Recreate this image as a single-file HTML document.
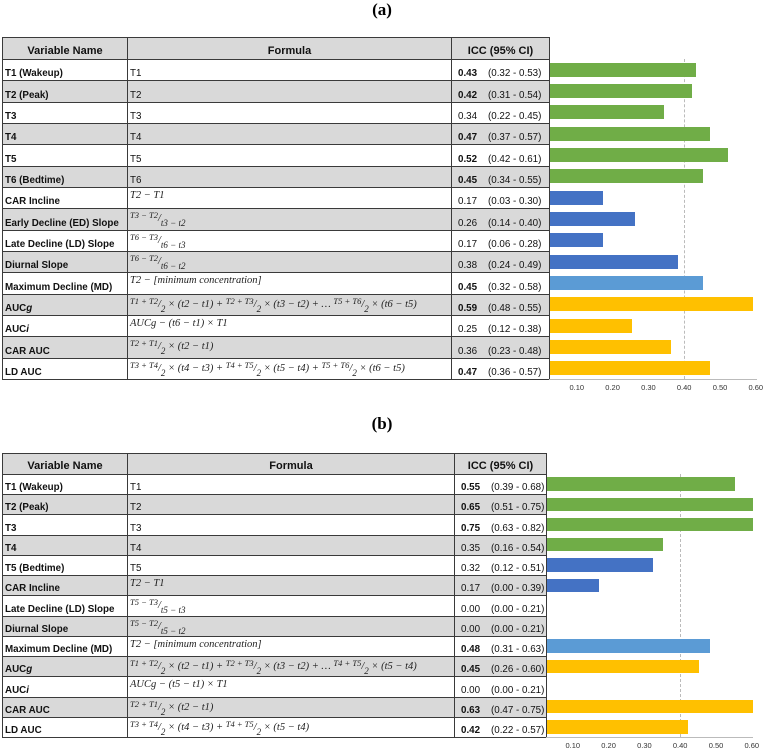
<!DOCTYPE html>
<html><head><meta charset="utf-8">
<style>
body{margin:0;width:764px;height:750px;background:#fff;position:relative;overflow:hidden;font-family:"Liberation Sans",sans-serif;}
.abs{position:absolute;box-sizing:border-box;}
.title{font-family:"Liberation Serif",serif;font-weight:bold;font-size:17px;}
.cell{position:absolute;box-sizing:border-box;border:1px solid #3a3a3a;font-size:9.8px;color:#111;overflow:hidden;white-space:nowrap;}
.hdr{font-weight:bold;font-size:11px;display:flex;align-items:flex-end;justify-content:center;padding-bottom:2px;}
.nm{font-weight:bold;display:flex;align-items:flex-end;padding:0 0 1px 2px;}
.fm{display:flex;align-items:flex-end;padding:0 0 1px 2px;}
.fm.m{align-items:flex-start;padding-top:2px;font-family:"Liberation Serif",serif;font-style:italic;font-size:10.5px;color:#222;line-height:12px;}
.ic{display:flex;align-items:flex-end;padding:0 0 1px 6px;}
.ic b{display:inline-block;width:30px;}
.tick{position:absolute;font-size:7.5px;color:#333;transform:translateX(-50%);}
sup{font-size:8.5px;vertical-align:3px;line-height:1;}
sub{font-size:9px;vertical-align:-5px;line-height:1;}
</style></head>
<body>
<script>
const namesA=["T1 (Wakeup)","T2 (Peak)","T3","T4","T5","T6 (Bedtime)","CAR Incline","Early Decline (ED) Slope","Late Decline (LD) Slope","Diurnal Slope","Maximum Decline (MD)","AUC<i>g</i>","AUC<i>i</i>","CAR AUC","LD AUC"];
const formulasA=["T1","T2","T3","T4","T5","T6","m:T2 &minus; T1","m:<sup>T3 &minus; T2</sup>/<sub>t3 &minus; t2</sub>","m:<sup>T6 &minus; T3</sup>/<sub>t6 &minus; t3</sub>","m:<sup>T6 &minus; T2</sup>/<sub>t6 &minus; t2</sub>","m:T2 &minus; [minimum concentration]","m:<sup>T1 + T2</sup>/<sub>2</sub> &times; (t2 &minus; t1) + <sup>T2 + T3</sup>/<sub>2</sub> &times; (t3 &minus; t2) + &hellip; <sup>T5 + T6</sup>/<sub>2</sub> &times; (t6 &minus; t5)","m:AUCg &minus; (t6 &minus; t1) &times; T1","m:<sup>T2 + T1</sup>/<sub>2</sub> &times; (t2 &minus; t1)","m:<sup>T3 + T4</sup>/<sub>2</sub> &times; (t4 &minus; t3) + <sup>T4 + T5</sup>/<sub>2</sub> &times; (t5 &minus; t4) + <sup>T5 + T6</sup>/<sub>2</sub> &times; (t6 &minus; t5)"];
const valuesA=[0.43,0.42,0.34,0.47,0.52,0.45,0.17,0.26,0.17,0.38,0.45,0.59,0.25,0.36,0.47];
const ciA=["(0.32 - 0.53)","(0.31 - 0.54)","(0.22 - 0.45)","(0.37 - 0.57)","(0.42 - 0.61)","(0.34 - 0.55)","(0.03 - 0.30)","(0.14 - 0.40)","(0.06 - 0.28)","(0.24 - 0.49)","(0.32 - 0.58)","(0.48 - 0.55)","(0.12 - 0.38)","(0.23 - 0.48)","(0.36 - 0.57)"];
const boldA=[1,1,0,1,1,1,0,0,0,0,1,1,0,0,1];
const colorsA=["g","g","g","g","g","g","b","b","b","b","l","o","o","o","o"];
const namesB=["T1 (Wakeup)","T2 (Peak)","T3","T4","T5 (Bedtime)","CAR Incline","Late Decline (LD) Slope","Diurnal Slope","Maximum Decline (MD)","AUC<i>g</i>","AUC<i>i</i>","CAR AUC","LD AUC"];
const formulasB=["T1","T2","T3","T4","T5","m:T2 &minus; T1","m:<sup>T5 &minus; T3</sup>/<sub>t5 &minus; t3</sub>","m:<sup>T5 &minus; T2</sup>/<sub>t5 &minus; t2</sub>","m:T2 &minus; [minimum concentration]","m:<sup>T1 + T2</sup>/<sub>2</sub> &times; (t2 &minus; t1) + <sup>T2 + T3</sup>/<sub>2</sub> &times; (t3 &minus; t2) + &hellip; <sup>T4 + T5</sup>/<sub>2</sub> &times; (t5 &minus; t4)","m:AUCg &minus; (t5 &minus; t1) &times; T1","m:<sup>T2 + T1</sup>/<sub>2</sub> &times; (t2 &minus; t1)","m:<sup>T3 + T4</sup>/<sub>2</sub> &times; (t4 &minus; t3) + <sup>T4 + T5</sup>/<sub>2</sub> &times; (t5 &minus; t4)"];
const valuesB=[0.55,0.65,0.75,0.35,0.32,0.17,0.00,0.00,0.48,0.45,0.00,0.63,0.42];
const ciB=["(0.39 - 0.68)","(0.51 - 0.75)","(0.63 - 0.82)","(0.16 - 0.54)","(0.12 - 0.51)","(0.00 - 0.39)","(0.00 - 0.21)","(0.00 - 0.21)","(0.31 - 0.63)","(0.26 - 0.60)","(0.00 - 0.21)","(0.47 - 0.75)","(0.22 - 0.57)"];
const boldB=[1,1,1,0,0,0,0,0,1,1,0,1,1];
const colorsB=["g","g","g","g","b","b","b","b","l","o","o","o","o"];
const tickVals=[0.10,0.20,0.30,0.40,0.50,0.60];
const tickLabels=["0.10","0.20","0.30","0.40","0.50","0.60"];
const refLine=0.40;
const axisMax=0.60;
const COL={g:"#70ad47",b:"#4472c4",l:"#5b9bd5",o:"#ffc000"};

function panel(id,label,titleY,top,hH,rH,cols,x0,names,forms,vals,cis,bolds,colors){
  const sc=358;
  const xs=v=>x0+sc*Math.min(v,axisMax);
  const wrap=document.createElement('div');
  
  
  document.body.appendChild(wrap);
  const t=document.createElement('div');t.className='abs title';
  
  
  t.style.left='362px';t.style.top=titleY+'px';t.style.width='40px';t.style.textAlign='center';
  t.textContent=label;wrap.appendChild(t);
  const heads=["Variable Name","Formula","ICC (95% CI)"];
  for(let c=0;c<3;c++){
    const h=document.createElement('div');h.className='cell hdr';
    
    
    h.style.cssText+=`left:${cols[c]}px;top:${top}px;width:${cols[c+1]-cols[c]+1}px;height:${hH+1}px;background:#d9d9d9;border-width:1.5px;`;
    h.textContent=heads[c];wrap.appendChild(h);
  }
  const bodyTop=top+hH;
  const bottom=bodyTop+rH*names.length;
  for(let i=0;i<names.length;i++){
    const y=bodyTop+i*rH;const bg=i%2?'#d9d9d9':'#fff';
    const n=document.createElement('div');n.className='cell nm';
    
    
    n.style.cssText+=`left:${cols[0]}px;top:${y}px;width:${cols[1]-cols[0]+1}px;height:${rH+1}px;background:${bg};`;
    n.innerHTML=names[i];wrap.appendChild(n);
    const f=document.createElement('div');let fs=forms[i];const m=fs.startsWith('m:');if(m)fs=fs.slice(2);
    f.className='cell fm'+(m?' m':'');
    
    
    f.style.cssText+=`left:${cols[1]}px;top:${y}px;width:${cols[2]-cols[1]+1}px;height:${rH+1}px;background:${bg};`;
    f.innerHTML='<span>'+fs+'</span>';wrap.appendChild(f);
    const ic=document.createElement('div');ic.className='cell ic';
    
    
    ic.style.cssText+=`left:${cols[2]}px;top:${y}px;width:${cols[3]-cols[2]+1}px;height:${rH+1}px;background:${bg};`;
    const vs=vals[i].toFixed(2);
    ic.innerHTML=(bolds[i]?'<b>'+vs+'</b>':'<b style="font-weight:normal">'+vs+'</b>')+'<span>'+cis[i]+'</span>';
    wrap.appendChild(ic);
  }
  const d=document.createElement('div');d.className='abs';
  
  
  d.style.cssText=`left:${xs(refLine)}px;top:${bodyTop}px;height:${bottom-bodyTop}px;width:0;border-left:1px dashed #bbb;`;
  wrap.appendChild(d);
  const bh=rH*0.66;
  for(let i=0;i<vals.length;i++){
    if(vals[i]<=0)continue;
    const b=document.createElement('div');b.className='abs';
    
    
    const w=Math.max(0,xs(vals[i])-cols[3]);
    b.style.cssText=`left:${cols[3]+1}px;top:${bodyTop+i*rH+(rH-bh)/2}px;width:${w}px;height:${bh}px;background:${COL[colors[i]]};`;
    wrap.appendChild(b);
  }
  const ax=document.createElement('div');ax.className='abs';
  
  
  ax.style.cssText=`left:${cols[3]}px;top:${bottom}px;width:${xs(axisMax)-cols[3]+1}px;height:0;border-top:1px solid #bbb;`;
  wrap.appendChild(ax);
  for(let k=0;k<tickVals.length;k++){
    const tk=document.createElement('div');tk.className='tick';
    
    
    tk.style.left=xs(tickVals[k])+'px';tk.style.top=(bottom+4)+'px';
    tk.textContent=tickLabels[k];wrap.appendChild(tk);
  }
}
panel('a','(a)',0,37,22,21.33,[2,127,451,549],541,namesA,formulasA,valuesA,ciA,boldA,colorsA);
panel('b','(b)',414,453,21,20.23,[2,127,454,546],537,namesB,formulasB,valuesB,ciB,boldB,colorsB);
</script>
</body></html>
